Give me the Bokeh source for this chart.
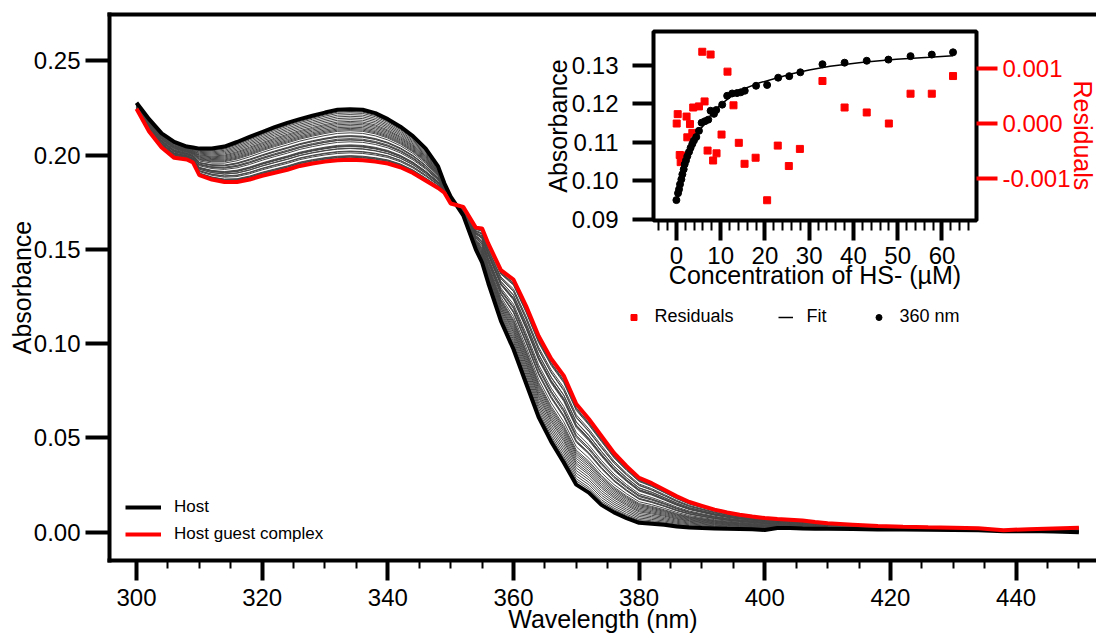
import math
from bokeh.plotting import figure
from bokeh.models import (Range1d, LinearAxis, FixedTicker, PrintfTickFormatter,
                          Legend, LegendItem, Label)
from bokeh.layouts import row
from bokeh.embed import file_html
from bokeh.resources import INLINE

FONT = "Liberation Sans"
NAN = float("nan")

# ---------------- main spectra ----------------
wavelength = [300, 302, 304, 306, 308, 309, 310, 312, 314, 316, 318, 320, 322, 324,
              326, 328, 330, 332, 334, 336, 338, 340, 342, 344, 346, 348, 349, 350,
              352, 354, 355, 356, 358, 360, 362, 364, 366, 368, 370, 372, 374, 376,
              378, 380, 382, 384, 386, 388, 390, 392, 394, 396, 398, 400, 402, 404,
              406, 408, 410, 414, 418, 422, 426, 430, 434, 438, 442, 446, 450]
host_abs = [0.2277, 0.2190, 0.2115, 0.2070, 0.2045, 0.2040, 0.2034, 0.2034, 0.2045,
            0.2069, 0.2096, 0.2122, 0.2148, 0.2170, 0.2190, 0.2208, 0.2225, 0.2240,
            0.2243, 0.2240, 0.2222, 0.2190, 0.2150, 0.2100, 0.2035, 0.1940, 0.1850,
            0.1780, 0.1680, 0.1500, 0.1430, 0.1320, 0.1120, 0.0970, 0.0790, 0.0610,
            0.0480, 0.0370, 0.0252, 0.0210, 0.0145, 0.0105, 0.0075, 0.0050, 0.0045,
            0.0040, 0.0030, 0.0025, 0.0022, 0.0020, 0.0018, 0.0017, 0.0016, 0.0012,
            0.0022, 0.0022, 0.0020, 0.0019, 0.0018, 0.0017, 0.0015, 0.0014, 0.0013,
            0.0012, 0.0010, 0.0005, 0.0006, 0.0004, 0.0000]
complex_abs = [0.2245, 0.2125, 0.2040, 0.1985, 0.1976, 0.1960, 0.1893, 0.1870, 0.1857,
               0.1857, 0.1870, 0.1890, 0.1906, 0.1922, 0.1942, 0.1955, 0.1965, 0.1972,
               0.1975, 0.1972, 0.1965, 0.1955, 0.1935, 0.1905, 0.1865, 0.1825, 0.1800,
               0.1743, 0.1725, 0.1615, 0.1611, 0.1530, 0.1390, 0.1340, 0.1200, 0.1040,
               0.0920, 0.0830, 0.0680, 0.0600, 0.0510, 0.0420, 0.0350, 0.0288, 0.0260,
               0.0225, 0.0190, 0.0160, 0.0140, 0.0120, 0.0105, 0.0093, 0.0083, 0.0075,
               0.0070, 0.0066, 0.0062, 0.0054, 0.0047, 0.0040, 0.0033, 0.0029, 0.0026,
               0.0024, 0.0021, 0.0011, 0.0016, 0.0020, 0.0023]

x_major = [300, 320, 340, 360, 380, 400, 420, 440]
x_minor = [305, 310, 315, 325, 330, 335, 345, 350, 355, 365, 370, 375, 385, 390, 395,
           405, 410, 415, 425, 430, 435, 445, 450]
y_major = [0.00, 0.05, 0.10, 0.15, 0.20, 0.25]

# ---------------- inset titration data ----------------
conc_360 = [0.0, 0.37, 0.6, 0.82, 1.12, 1.35, 1.65, 1.87, 2.17, 2.47, 2.85, 3.22, 3.6,
            3.97, 4.5, 5.1, 5.7, 6.45, 7.2, 7.73, 8.5, 9.0, 10.35, 11.47, 12.6, 13.7,
            14.55, 15.45, 18.0, 20.5, 23.0, 25.5, 28.0, 33.0, 38.0, 43.0, 47.9, 52.9,
            57.7, 62.5]
abs_360 = [0.0950, 0.0968, 0.0978, 0.0991, 0.1004, 0.1017, 0.1030, 0.1043, 0.1053,
           0.1064, 0.1075, 0.1086, 0.1096, 0.1105, 0.1114, 0.1130, 0.1151, 0.1155,
           0.1159, 0.1182, 0.1174, 0.1184, 0.1198, 0.1221, 0.1227, 0.1228, 0.1230,
           0.1234, 0.1247, 0.1249, 0.1268, 0.1272, 0.1282, 0.1303, 0.1307, 0.1312,
           0.1315, 0.1324, 0.1328, 0.1334]
fit_conc = [0.0, 1.0, 2.0, 3.0, 4.0, 5.0, 6.0, 8.0, 10.0, 12.0, 15.0, 18.6, 22.3, 26.1,
            30.0, 34.7, 42.2, 49.7, 57.2, 62.5]
fit_abs = [0.0950, 0.1005, 0.1050, 0.1085, 0.1112, 0.1130, 0.1142, 0.1175, 0.1198,
           0.1216, 0.1238, 0.1254, 0.1266, 0.1278, 0.1288, 0.1298, 0.1308, 0.1316,
           0.1321, 0.1325]
res_conc = [0.07, 0.3, 0.75, 0.97, 1.35, 2.3, 2.47, 3.07, 3.6, 3.8, 5.1, 5.85, 6.37,
            7.05, 7.73, 8.3, 9.07, 10.2, 11.55, 12.9, 14.1, 15.4, 17.9, 20.5, 22.9,
            25.4, 27.9, 33.0, 38.0, 43.0, 48.0, 52.9, 57.7, 62.5]
res_val = [0.0, 0.00017, -0.00057, -0.0007, -0.00058, 0.000126, -0.00025, -0.00001,
           -0.00017, 0.00029, 0.00031, 0.0013, 0.0004, -0.00049, 0.00125, -0.00067,
           -0.00054, -0.0002, 0.00094, 0.00033, -0.00035, -0.00073, -0.00062, -0.00139,
           -0.0004, -0.00077, -0.00046, 0.00077, 0.00029, 0.0002, 0.0, 0.00054, 0.00054,
           0.00086]

ix_major = [0, 10, 20, 30, 40, 50, 60]
ix_minor = [-4, -2, 2, 4, 6, 8, 12, 14, 16, 18, 22, 24, 26, 28, 32, 34, 36, 38, 42, 44,
            46, 48, 52, 54, 56, 58, 62, 64, 66]
iy_major = [0.09, 0.10, 0.11, 0.12, 0.13]
ires_major = [-0.001, 0.0, 0.001]

# intermediate titration spectra: two-state mixture weighted by the 360 nm progress
a0, a1 = abs_360[0], abs_360[-1]
fractions = [(a - a0) / (a1 - a0) for a in abs_360[1:-1]]
mid_xs = [wavelength for _ in fractions]
mid_ys = [[h + f * (c - h) for h, c in zip(host_abs, complex_abs)] for f in fractions]

# ---------------- main figure ----------------
p = figure(width=1096, height=635, output_backend="svg", toolbar_location=None,
           x_range=Range1d(295.7, 452.8), y_range=Range1d(-0.015, 0.2745),
           min_border_left=109, min_border_right=0, min_border_top=14,
           min_border_bottom=74)
p.outline_line_color = None
p.xgrid.visible = False
p.ygrid.visible = False
p.background_fill_color = "white"

xa = p.xaxis[0]
xa.ticker = FixedTicker(ticks=x_major, minor_ticks=x_minor)
xa.axis_label = "Wavelength (nm)"
ya = p.yaxis[0]
ya.ticker = FixedTicker(ticks=y_major, minor_ticks=[])
ya.formatter = PrintfTickFormatter(format="%.2f")
ya.axis_label = "Absorbance"
for ax in (xa, ya):
    ax.axis_label_text_font = FONT
    ax.axis_label_text_font_size = "25px"
    ax.axis_label_text_font_style = "normal"
    ax.axis_label_text_color = "black"
    ax.major_label_text_font = FONT
    ax.major_label_text_font_size = "24px"
    ax.major_label_text_color = "black"
    ax.axis_line_width = 4
    ax.axis_line_cap = "square"
    ax.major_tick_line_width = 4
    ax.minor_tick_line_width = 2
    ax.major_tick_in = 0
    ax.minor_tick_in = 0
xa.major_tick_out = 20
xa.minor_tick_out = 8
xa.major_label_standoff = 8
xa.axis_label_standoff = -4
ya.major_tick_out = 24
ya.minor_tick_out = 0
ya.major_label_standoff = 5
ya.axis_label_standoff = -5

top = LinearAxis(ticker=FixedTicker(ticks=[], minor_ticks=[]), major_tick_out=0,
                 major_tick_in=0, minor_tick_out=0, minor_tick_in=0,
                 axis_line_width=4, axis_line_cap="square",
                 major_label_text_font_size="0px", major_label_standoff=0)
p.add_layout(top, "above")

p.multi_line(xs=mid_xs, ys=mid_ys, line_color="#474747", line_width=1.0)
r_host = p.line(wavelength, host_abs, line_color="black", line_width=4)
r_cplx = p.line(wavelength, complex_abs, line_color="red", line_width=4)

leg = Legend(items=[LegendItem(label="Host", renderers=[r_host]),
                    LegendItem(label="Host guest complex", renderers=[r_cplx])],
             location=(16, 16), orientation="vertical",
             glyph_width=36, glyph_height=20, label_standoff=13, spacing=7,
             padding=0, margin=0, border_line_color=None, background_fill_alpha=0,
             label_text_font=FONT, label_text_font_size="17px", label_text_color="black")
p.add_layout(leg)

# legend keys of the inset series (shown in the main canvas, just below the inset)
k_res = p.scatter(x=[NAN], y=[NAN], marker="square", size=7, fill_color="red",
                  line_color="red")
k_fit = p.line(x=[NAN], y=[NAN], line_color="black", line_width=1.5)
k_pts = p.scatter(x=[NAN], y=[NAN], marker="circle", size=7, fill_color="black",
                  line_color="black")
ileg = Legend(items=[LegendItem(label="Residuals", renderers=[k_res]),
                     LegendItem(label="Fit", renderers=[k_fit]),
                     LegendItem(label="360 nm", renderers=[k_pts])],
              location=(516.5, 233), orientation="horizontal",
              glyph_width=15, glyph_height=20, label_standoff=14, spacing=44,
              padding=0, margin=0, border_line_color=None, background_fill_alpha=0,
              label_text_font=FONT, label_text_font_size="18px", label_text_color="black")
p.add_layout(ileg)

# title of the inset's residual axis, at the right edge of the page
p.add_layout(Label(x=450.72, y=0.2104, text="Residuals", angle=-math.pi / 2,
                   text_align="center", text_baseline="middle", text_color="red",
                   text_font=FONT, text_font_size="25px"))

# ---------------- inset figure ----------------
q = figure(width=556, height=278, output_backend="svg", toolbar_location=None,
           x_range=Range1d(-5.17, 67.8), y_range=Range1d(0.0897, 0.1388),
           min_border_left=111, min_border_right=120, min_border_top=14,
           min_border_bottom=74)
q.extra_y_ranges = {"res": Range1d(-0.001757, 0.001667)}
q.background_fill_color = None
q.border_fill_color = None
q.outline_line_color = "black"
q.outline_line_width = 4
q.xgrid.visible = False
q.ygrid.visible = False

qx = q.xaxis[0]
qx.ticker = FixedTicker(ticks=ix_major, minor_ticks=ix_minor)
qx.axis_label = "Concentration of HS- (µM)"
qy = q.yaxis[0]
qy.ticker = FixedTicker(ticks=iy_major, minor_ticks=[])
qy.formatter = PrintfTickFormatter(format="%.2f")
qy.axis_label = "Absorbance"
qr = LinearAxis(y_range_name="res", ticker=FixedTicker(ticks=ires_major, minor_ticks=[]),
                formatter=PrintfTickFormatter(format="%.3f"))
q.add_layout(qr, "right")
for ax in (qx, qy, qr):
    ax.axis_line_color = None
    ax.axis_label_text_font = FONT
    ax.axis_label_text_font_size = "25px"
    ax.axis_label_text_font_style = "normal"
    ax.major_label_text_font = FONT
    ax.major_label_text_font_size = "24px"
    ax.major_tick_line_width = 4
    ax.minor_tick_line_width = 2
    ax.major_tick_in = 0
    ax.minor_tick_in = 0
for ax in (qx, qy):
    ax.axis_label_text_color = "black"
    ax.major_label_text_color = "black"
qx.major_tick_out = 20
qx.minor_tick_out = 10
qx.major_label_standoff = 6
qx.axis_label_standoff = -6
qy.major_tick_out = 21
qy.minor_tick_out = 0
qy.major_label_standoff = 14
qy.axis_label_standoff = -3
qr.major_tick_out = 21
qr.minor_tick_out = 0
qr.major_tick_line_color = "red"
qr.major_label_text_color = "red"
qr.major_label_standoff = 5

q.scatter(res_conc, res_val, y_range_name="res", marker="square", size=7,
          fill_color="red", line_color="red")
q.line(fit_conc, fit_abs, line_color="black", line_width=1.5)
q.scatter(conc_360, abs_360, marker="circle", size=7,
          fill_color="black", line_color="black")

q.margin = (17, 0, 0, -556)

layout = row(p, q)
open("out.html", "w").write(file_html(layout, INLINE))
